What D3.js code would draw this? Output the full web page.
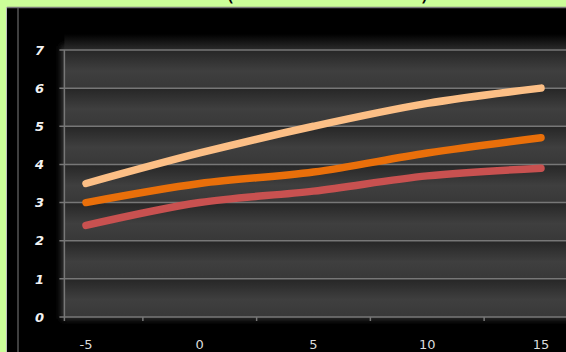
<!DOCTYPE html>
<html><head><meta charset="utf-8">
<script src="https://cdn.jsdelivr.net/npm/d3@7"></script>
<style>html,body{margin:0;padding:0;background:#ccfe99;overflow:hidden}</style>
</head><body>
<script>
const categories = [-5, 0, 5, 10, 15];
const seriesTop = [3.5, 4.3, 5.0, 5.6, 6.0];
const seriesMid = [3.0, 3.5, 3.8, 4.3, 4.7];
const seriesLow = [2.4, 3.0, 3.3, 3.7, 3.9];
const yTicks = [0, 1, 2, 3, 4, 5, 6, 7];
const xTickMarks = [-2.5, 2.5, 7.5, 12.5, 17.5];

const W = 566, H = 352;
const svg = d3.select("body").append("svg").attr("width", W).attr("height", H);
const defs = svg.append("defs");

const band = defs.append("linearGradient").attr("id","band").attr("x1",0).attr("x2",0).attr("y1",0).attr("y2",1);
band.append("stop").attr("offset","0%").attr("stop-color","#262626");
band.append("stop").attr("offset","55%").attr("stop-color","#3f3f3f");
band.append("stop").attr("offset","100%").attr("stop-color","#383838");

const topFade = defs.append("linearGradient").attr("id","topFade").attr("x1",0).attr("x2",0).attr("y1",0).attr("y2",1);
topFade.append("stop").attr("offset","0%").attr("stop-color","#000");
topFade.append("stop").attr("offset","100%").attr("stop-color","#2c2c2c");

const blur = defs.append("filter").attr("id","glow").attr("x","-10%").attr("y","-10%").attr("width","120%").attr("height","120%");
blur.append("feGaussianBlur").attr("stdDeviation", 3);

// background panel
svg.append("rect").attr("width",W).attr("height",H).attr("fill","#ccfe99");
svg.append("rect").attr("x",7).attr("y",7).attr("width",W-7).attr("height",H-7).attr("fill","#000");
svg.append("line").attr("x1",6.5).attr("x2",6.5).attr("y1",7).attr("y2",H).attr("stroke","#bbb").attr("stroke-width",1);
svg.append("line").attr("x1",7).attr("x2",W).attr("y1",7.5).attr("y2",7.5).attr("stroke","#7a7a7a").attr("stroke-width",1.5);
svg.append("line").attr("x1",18).attr("x2",18).attr("y1",8).attr("y2",H).attr("stroke","#555").attr("stroke-width",1.5);

// partially visible title (cut off at top edge, as in the reference)
svg.append("text").attr("x",230).attr("y",0).attr("font-family","DejaVu Sans").attr("font-size",24).attr("fill","#000").attr("text-anchor","middle").text("(");
svg.append("text").attr("x",425).attr("y",0).attr("font-family","DejaVu Sans").attr("font-size",24).attr("fill","#000").attr("text-anchor","middle").text(")");

const x = d3.scaleLinear().domain([-5, 15]).range([86, 541]);
const y = d3.scaleLinear().domain([0, 7]).range([317, 50]);
const plotLeft = x(-5.95);

// glow and plot area
svg.append("rect").attr("x",plotLeft-3).attr("y",y(7)-4).attr("width",W).attr("height",y(0)-y(7)+6)
  .attr("fill","#3a3a3a").attr("filter","url(#glow)");
svg.append("rect").attr("x",plotLeft).attr("y",y(7)-16).attr("width",W).attr("height",16).attr("fill","url(#topFade)");

const bands = d3.range(0, 7);
svg.append("g").selectAll("rect").data(bands).join("rect")
  .attr("x", plotLeft).attr("width", W - plotLeft)
  .attr("y", d => y(d + 1)).attr("height", d => y(d) - y(d + 1))
  .attr("fill", "url(#band)");

// gridlines
svg.append("g").selectAll("line").data(yTicks).join("line")
  .attr("x1", plotLeft - 5).attr("x2", W)
  .attr("y1", d => y(d)).attr("y2", d => y(d))
  .attr("stroke", "#777").attr("stroke-width", 1.5);

// y axis line
svg.append("line").attr("x1",plotLeft).attr("x2",plotLeft).attr("y1",y(7)).attr("y2",y(0)+4)
  .attr("stroke","#777").attr("stroke-width",1.5);

// x tick marks
svg.append("g").selectAll("line").data(xTickMarks).join("line")
  .attr("x1", d => x(d)).attr("x2", d => x(d))
  .attr("y1", y(0)).attr("y2", y(0) + 4)
  .attr("stroke", "#777").attr("stroke-width", 1.5);

// y labels
svg.append("g").selectAll("text").data(yTicks).join("text")
  .attr("x", 44).attr("y", d => y(d)).attr("dy", "0.36em")
  .attr("text-anchor", "end")
  .attr("font-family", "DejaVu Sans").attr("font-weight", "bold").attr("font-style", "italic")
  .attr("font-size", 13).attr("fill", "#f2f2f2")
  .text(d => d);

// x labels
svg.append("g").selectAll("text").data(categories).join("text")
  .attr("x", d => x(d)).attr("y", 349)
  .attr("text-anchor", "middle")
  .attr("font-family", "DejaVu Sans").attr("font-size", 13).attr("fill", "#dcdcdc")
  .text(d => d);

// lines
const line = d3.line().x((d, i) => x(categories[i])).y(d => y(d)).curve(d3.curveCatmullRom.alpha(0.5));
const series = [
  {vals: seriesLow, color: "#c85150"},
  {vals: seriesMid, color: "#e96f0a"},
  {vals: seriesTop, color: "#fcbf86"}
];
svg.append("g").selectAll("path").data(series).join("path")
  .attr("d", d => line(d.vals))
  .attr("fill", "none").attr("stroke", d => d.color)
  .attr("stroke-width", 7.5).attr("stroke-linecap", "round").attr("stroke-linejoin", "round");
</script>
</body></html>
